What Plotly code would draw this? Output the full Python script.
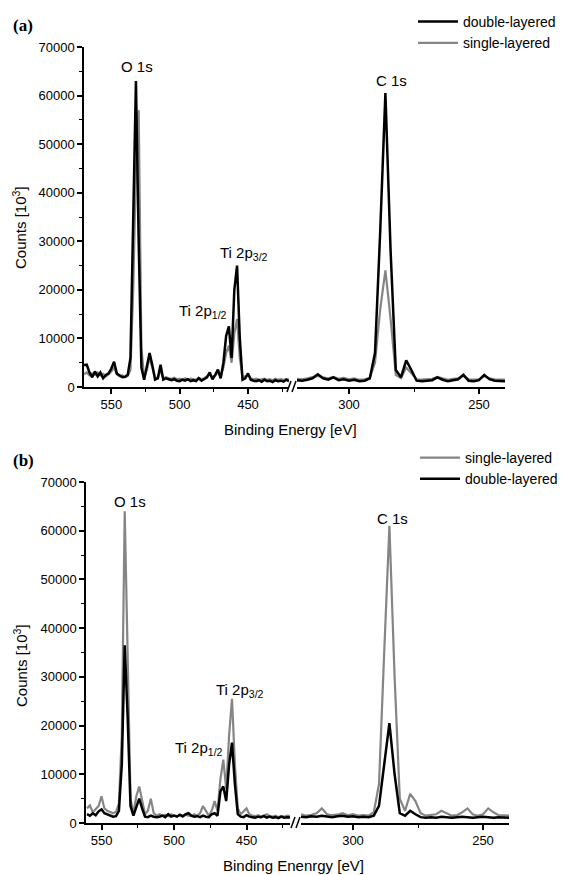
import plotly.graph_objects as go

# ---------------- data ----------------
# Panel (a): left segment energies (eV) and right segment energies
a_left_x = list(range(570, 419, -2))
a_right_x = list(range(320, 239, -2))

a_left_double = [4500, 4600, 3000, 2000, 3200, 2200, 3000, 1800, 2500, 2800,
                 3800, 5200, 2800, 2300, 2000, 2100, 2500, 6000, 38000, 63000,
                 30000, 4000, 1500, 4000, 7000, 4500, 1500, 1800, 4600, 1500,
                 1800, 1600, 1400, 1600, 1300, 1200, 1500, 1300, 1600, 1200,
                 1400, 1200, 1800, 1300, 1600, 2000, 3000, 1600, 2500, 3600,
                 1800, 5000, 10500, 12500, 6000, 20000, 25000, 10000, 1500, 1800,
                 2800, 1500, 1300, 1200, 1400, 1100, 1500, 1200, 1300, 1000,
                 1400, 1200, 1300, 1100, 1500, 1200]
a_left_single = [2600, 3000, 2400, 2800, 2500, 3000, 2400, 2700, 2200, 2600,
                 3200, 4000, 2600, 2200, 2400, 2000, 2300, 3500, 20000, 45000,
                 57000, 8000, 2000, 3500, 6000, 4000, 2000, 1700, 3500, 1800,
                 2000, 1800, 1700, 1900, 1600, 1700, 1500, 1800, 1500, 1700,
                 1600, 1500, 1900, 1600, 1800, 2300, 2600, 2000, 2400, 3000,
                 2200, 4000, 7000, 8500, 5000, 11000, 14000, 6000, 2000, 2200,
                 2600, 1800, 1600, 1700, 1500, 1600, 1700, 1500, 1600, 1400,
                 1700, 1500, 1600, 1500, 1600, 1500]
a_right_double = [1400, 1300, 1500, 1800, 2600, 1800, 1500, 2000, 1400, 1600,
                  1300, 1500, 1200, 1300, 1800, 7000, 32000, 60500, 28000, 3500,
                  2000, 5500, 3500, 1300, 1200, 1300, 1400, 2000, 1500, 1200,
                  1400, 1600, 2500, 1300, 1200, 1400, 2500, 1600, 1300, 1200, 1200]
a_right_single = [1700, 1600, 1800, 2000, 2300, 2000, 1800, 2100, 1700, 1900,
                  1600, 1800, 1500, 1600, 1900, 5000, 16000, 24000, 14000, 2500,
                  1800, 4000, 2800, 1600, 1500, 1600, 1700, 2100, 1800, 1500,
                  1700, 1800, 2300, 1600, 1500, 1600, 2200, 1800, 1600, 1500, 1500]

# Panel (b)
b_left_x = list(range(560, 419, -2))
b_right_x = list(range(320, 239, -2))

b_left_single = [3000, 3600, 2200, 2800, 3500, 5500, 3000, 2500, 2200, 2000,
                 2300, 4000, 18000, 64000, 35000, 5000, 2000, 5500, 7500, 4500,
                 1800, 2500, 5000, 2000, 1500, 1800, 1500, 1700, 1400, 1800,
                 1500, 1400, 1600, 1300, 1700, 1500, 1400, 1800, 1500, 2000,
                 3500, 2500, 1500, 2500, 4500, 2500, 9000, 13000, 7000, 18000,
                 25500, 12000, 3000, 1800, 2500, 3000, 1800, 1500, 1400, 1600,
                 1300, 1500, 1800, 1400, 1300, 1500, 1200, 1400, 1300, 1500, 1400]
b_left_double = [1800, 1500, 2000, 1600, 2400, 2800, 2000, 1800, 1500, 1300,
                 1400, 2500, 12000, 36500, 22000, 3500, 1500, 3500, 5000, 3000,
                 1300, 1200, 1500, 1300, 1200, 1300, 1500, 1200, 1800, 1300,
                 1500, 1300, 1700, 1400, 1800, 2000, 1500, 1300, 1400, 1200,
                 1500, 1300, 1200, 1800, 2000, 1500, 6500, 7500, 4500, 12000,
                 16500, 8000, 1800, 1300, 1200, 1600, 1300, 1200, 1100, 1300,
                 1200, 1400, 1100, 1300, 1100, 1200, 1000, 1300, 1100, 1200, 1100]
b_right_single = [1800, 1500, 1700, 2000, 3000, 1800, 1600, 1700, 2000, 1600,
                  1800, 1500, 1600, 1500, 2200, 8000, 35000, 61000, 30000, 5000,
                  2500, 6000, 4500, 2000, 1500, 1600, 1800, 2500, 2000, 1500,
                  1600, 2200, 3000, 1800, 1500, 1800, 3000, 2200, 1600, 1500, 1500]
b_right_double = [1300, 1200, 1400, 1300, 1500, 1400, 1200, 1400, 1500, 1300,
                  1400, 1200, 1300, 1200, 1500, 3500, 12000, 20500, 10000, 2000,
                  1500, 2500, 1800, 1200, 1100, 1200, 1100, 1300, 1200, 1100,
                  1200, 1300, 1200, 1100, 1200, 1300, 1200, 1100, 1200, 1100, 1100]

y_ticks = [0, 10000, 20000, 30000, 40000, 50000, 60000, 70000]

# ---------------- styling ----------------
BLACK = "#000000"
GRAY = "#858585"
FONT = "Liberation Sans, Arial, sans-serif"
OFF = 8                      # default page body margin
W, H = 567 - OFF, 875 - OFF
ML = 84 - OFF
MT = 47 - OFF
MR = 567 - 509
MB = 875 - 823
PW = W - ML - MR
PH = H - MT - MB


def px_x(p):
    """screen pixel x -> paper coordinate"""
    return (p - OFF - ML) / PW


def px_y(p):
    """screen pixel y -> paper coordinate"""
    return (H - MB - (p - OFF)) / PH


fig = go.Figure()

# panel (a)
fig.add_trace(go.Scatter(x=a_left_x, y=a_left_single, mode="lines", name="single-layered",
                         line=dict(color=GRAY, width=2.2), xaxis="x", yaxis="y",
                         legend="legend", legendrank=2))
fig.add_trace(go.Scatter(x=a_right_x, y=a_right_single, mode="lines", showlegend=False,
                         line=dict(color=GRAY, width=2.2), xaxis="x2", yaxis="y"))
fig.add_trace(go.Scatter(x=a_left_x, y=a_left_double, mode="lines", name="double-layered",
                         line=dict(color=BLACK, width=2.5), xaxis="x", yaxis="y",
                         legend="legend", legendrank=1))
fig.add_trace(go.Scatter(x=a_right_x, y=a_right_double, mode="lines", showlegend=False,
                         line=dict(color=BLACK, width=2.5), xaxis="x2", yaxis="y"))

# panel (b)
fig.add_trace(go.Scatter(x=b_left_x, y=b_left_single, mode="lines", name="single-layered",
                         line=dict(color=GRAY, width=2.2), xaxis="x3", yaxis="y2",
                         legend="legend2", legendrank=1))
fig.add_trace(go.Scatter(x=b_right_x, y=b_right_single, mode="lines", showlegend=False,
                         line=dict(color=GRAY, width=2.2), xaxis="x4", yaxis="y2"))
fig.add_trace(go.Scatter(x=b_left_x, y=b_left_double, mode="lines", name="double-layered",
                         line=dict(color=BLACK, width=2.5), xaxis="x3", yaxis="y2",
                         legend="legend2", legendrank=2))
fig.add_trace(go.Scatter(x=b_right_x, y=b_right_double, mode="lines", showlegend=False,
                         line=dict(color=BLACK, width=2.5), xaxis="x4", yaxis="y2"))

xcommon = dict(showline=True, linecolor=BLACK, linewidth=1.5, ticks="outside", ticklen=5,
               tickwidth=1.5, tickcolor=BLACK, showgrid=False, zeroline=False,
               tickfont=dict(family=FONT, size=13, color=BLACK),
               minor=dict(ticks="outside", ticklen=3, tickwidth=1, tickcolor=BLACK, dtick=25))
ycommon = dict(showline=True, linecolor=BLACK, linewidth=1.5, ticks="outside", ticklen=5,
               tickwidth=1.5, tickcolor=BLACK, showgrid=False, zeroline=False,
               range=[0, 70000], tickvals=y_ticks, tickformat="d",
               tickfont=dict(family=FONT, size=13, color=BLACK),
               minor=dict(ticks="outside", ticklen=3, tickwidth=1, tickcolor=BLACK, dtick=5000))

ya_dom = [px_y(387), 1.0]
yb_dom = [0.0, px_y(482)]

leg_common = dict(xanchor="left", yanchor="top",
                  font=dict(family=FONT, size=14, color=BLACK), bgcolor="rgba(0,0,0,0)",
                  tracegroupgap=0, itemwidth=40)

fig.update_layout(
    width=W, height=H,
    margin=dict(l=ML, r=MR, t=MT, b=MB, autoexpand=False),
    plot_bgcolor="white", paper_bgcolor="white",
    xaxis=dict(xcommon, domain=[px_x(84), px_x(289)], range=[570, 420], anchor="y",
               tickvals=[550, 500, 450]),
    xaxis2=dict(xcommon, domain=[px_x(297), px_x(505)], range=[320, 240], anchor="y",
                tickvals=[300, 250]),
    yaxis=dict(ycommon, domain=ya_dom, anchor="x"),
    xaxis3=dict(xcommon, domain=[px_x(86), px_x(290)], range=[560.7, 420], anchor="y2",
                tickvals=[550, 500, 450]),
    xaxis4=dict(xcommon, domain=[px_x(301), px_x(509)], range=[320, 240], anchor="y2",
                tickvals=[300, 250]),
    yaxis2=dict(ycommon, domain=yb_dom, anchor="x3"),
    legend=dict(leg_common, x=px_x(413), y=px_y(6)),
    legend2=dict(leg_common, x=px_x(415), y=px_y(442)),
    showlegend=True,
)

# annotations
ann_font = dict(family=FONT, size=15, color=BLACK)
title_font = dict(family=FONT, size=15, color=BLACK)
panel_font = dict(family="Liberation Serif, Times New Roman, serif", size=17, color=BLACK)
anns = [
    dict(text="<b>(a)</b>", x=px_x(23), y=px_y(25), xref="paper", yref="paper", font=panel_font),
    dict(text="<b>(b)</b>", x=px_x(23), y=px_y(460), xref="paper", yref="paper", font=panel_font),
    dict(text="Counts [10<sup>3</sup>]", textangle=-90, x=px_x(20), y=px_y(228),
         xref="paper", yref="paper", font=title_font),
    dict(text="Counts [10<sup>3</sup>]", textangle=-90, x=px_x(20), y=px_y(666),
         xref="paper", yref="paper", font=title_font),
    dict(text="Binding Energy [eV]", x=px_x(290), y=px_y(429), xref="paper", yref="paper",
         font=title_font),
    dict(text="Binding Enenrgy [eV]", x=px_x(293), y=px_y(865), xref="paper", yref="paper",
         font=title_font),
    # peak labels (a)
    dict(text="O 1s", x=531, y=65900, xref="x", yref="y", font=ann_font),
    dict(text="C 1s", x=283.5, y=63200, xref="x2", yref="y", font=ann_font),
    dict(text="Ti 2p<sub>3/2</sub>", x=453, y=27500, xref="x", yref="y", font=ann_font),
    dict(text="Ti 2p<sub>1/2</sub>", x=482.6, y=15600, xref="x", yref="y", font=ann_font),
    # peak labels (b)
    dict(text="O 1s", x=530.5, y=65900, xref="x3", yref="y2", font=ann_font),
    dict(text="C 1s", x=285, y=62600, xref="x4", yref="y2", font=ann_font),
    dict(text="Ti 2p<sub>3/2</sub>", x=454.5, y=27200, xref="x3", yref="y2", font=ann_font),
    dict(text="Ti 2p<sub>1/2</sub>", x=482.5, y=15300, xref="x3", yref="y2", font=ann_font),
]
for a in anns:
    a.setdefault("showarrow", False)
    a.setdefault("xanchor", "center")
    a.setdefault("yanchor", "middle")
    fig.add_annotation(**a)

# axis-break marks "//"
shapes = []
for (x0, ybase) in [(287, 387), (291, 823)]:
    for dx in (0, 5):
        shapes.append(dict(type="line", xref="paper", yref="paper",
                           x0=px_x(x0 + dx), y0=px_y(ybase + 5),
                           x1=px_x(x0 + dx + 4), y1=px_y(ybase - 6),
                           line=dict(color=BLACK, width=1.5)))
fig.update_layout(shapes=shapes)

fig.write_html("out.html")
